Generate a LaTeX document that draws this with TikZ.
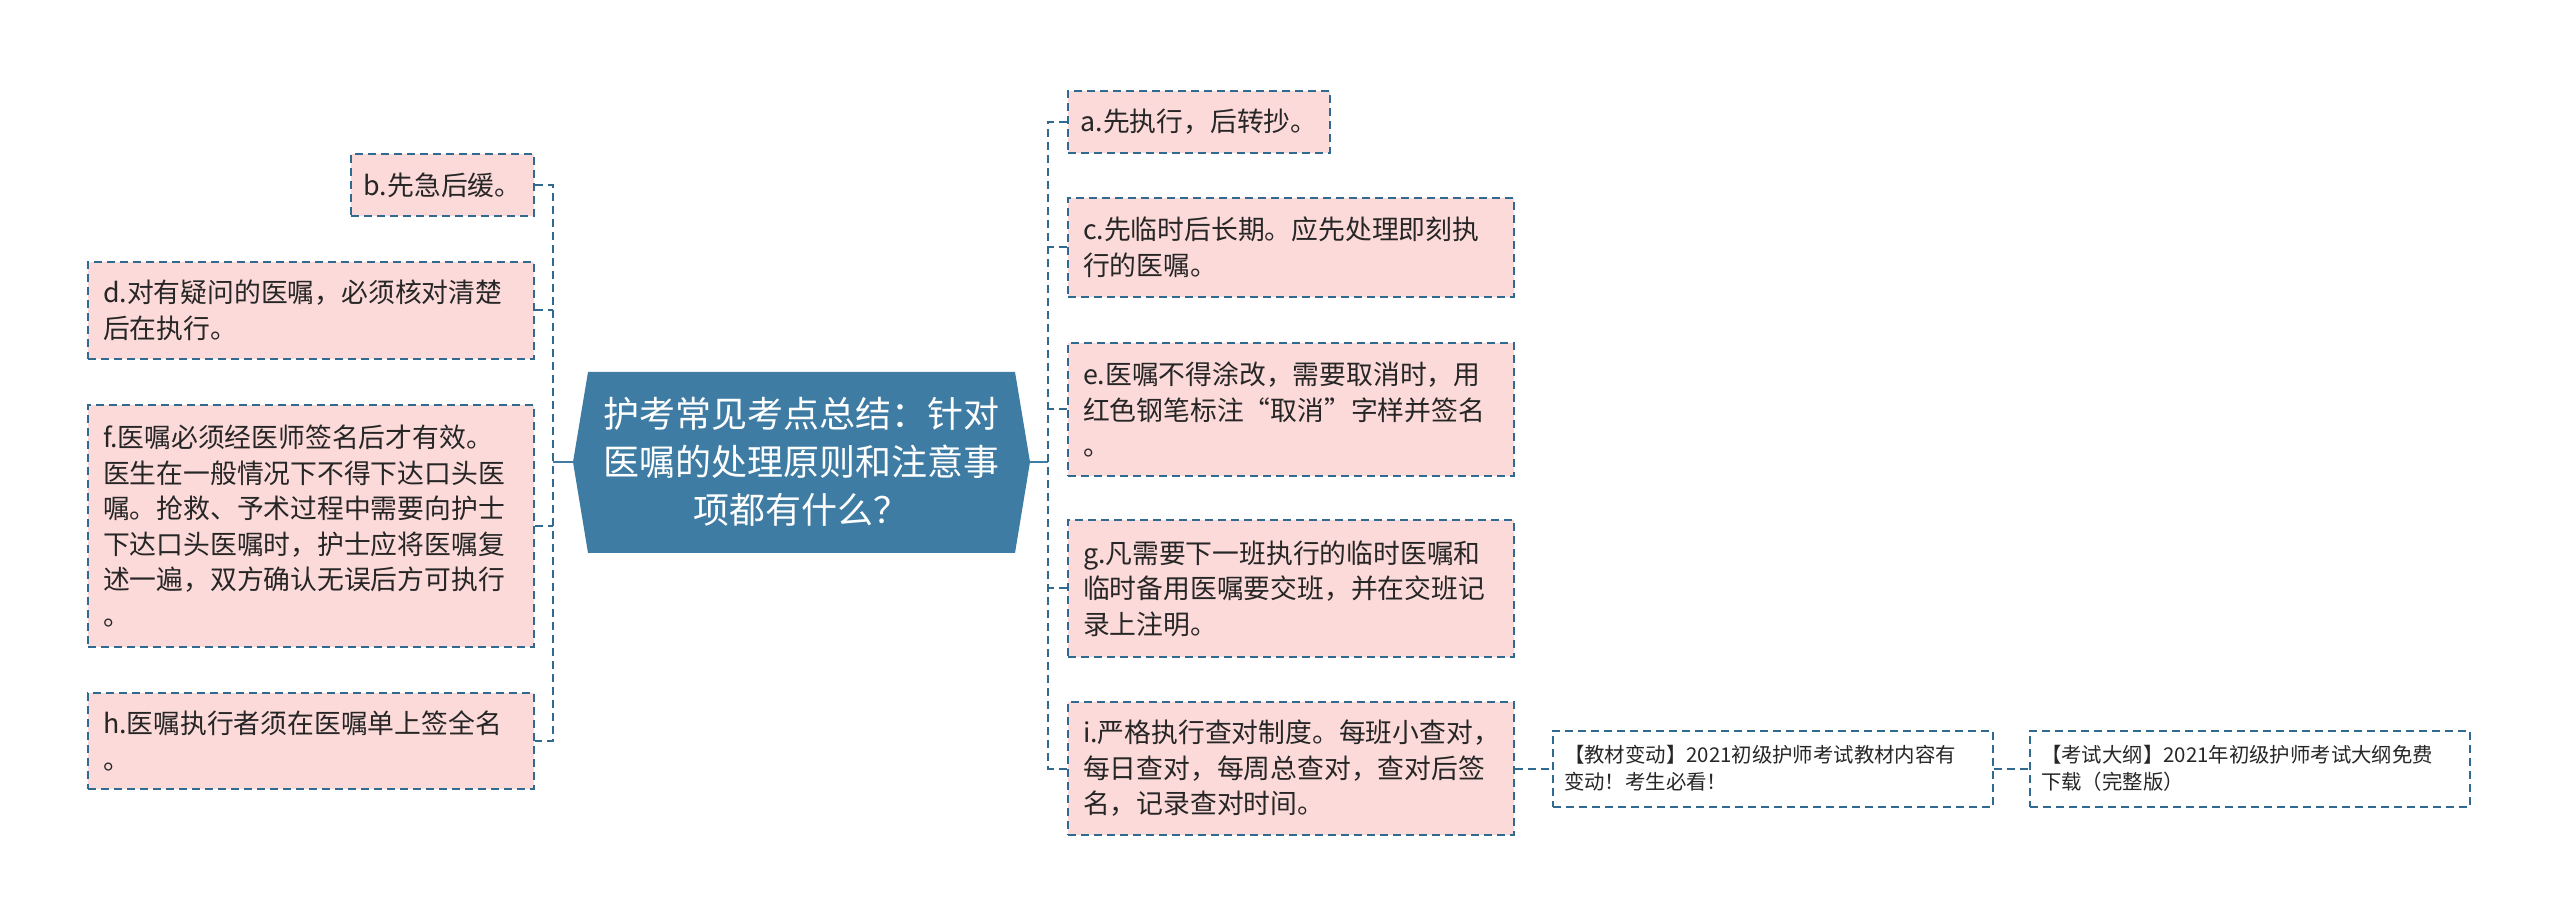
\documentclass[tikz,border=0pt]{standalone}
\usepackage{fontspec}
\newfontfamily\cjk{Noto Sans CJK SC}
\usepackage{tikz}
\usetikzlibrary{positioning}
\definecolor{rootblue}{RGB}{62,124,164}
\definecolor{lineblue}{RGB}{48,106,144}
\definecolor{leafpink}{RGB}{251,218,217}
\definecolor{inkgray}{RGB}{38,38,38}
\tikzset{
  leaf/.style={draw=lineblue, line width=1pt, dash pattern=on 4pt off 2.5pt, fill=leafpink,
    text=inkgray, align=left, inner xsep=7.5pt, inner ysep=4pt,
    font=\cjk\fontsize{13.4pt}{17.75pt}\selectfont},
  shortleaf/.style={leaf, inner xsep=6.3pt, minimum height=31pt},
  wideleaf/.style={leaf, text width=208pt, minimum height=#1},
  adbox/.style={draw=lineblue, line width=1pt, dash pattern=on 4pt off 2.5pt, text=inkgray,
    align=left, text width=209pt, minimum height=38pt, inner xsep=5.5pt,
    font=\cjk\fontsize{10.2pt}{13.5pt}\selectfont},
  roottext/.style={text=white, align=center, font=\cjk\fontsize{18pt}{24pt}\selectfont},
  link/.style={draw=lineblue, line width=1pt, dash pattern=on 4pt off 2.5pt},
  trunk/.style={draw=rootblue, line width=1.2pt},
}
\begin{document}
\begin{tikzpicture}[x=0.5pt, y=-0.5pt, node distance=18.5pt]
    \useasboundingbox (0,0) rectangle (2560,924);
    \fill[rootblue] (588,372) -- (1015,372) -- (1030,462) coordinate (rootE) -- (1015,553)
      -- (588,553) -- (573,462) coordinate (rootW) -- cycle;
    \node[roottext] (root) at (801,462) {护考常见考点总结：针对\\医嘱的处理原则和注意事\\项都有什么？};
    \coordinate (lj) at (553,462);
    \coordinate (rj) at (1048,462);

    \node[shortleaf, anchor=north east] (b) at (535,153) {b.先急后缓。};
    \node[wideleaf=48.5pt, anchor=north east] (d) at (535,261) {d.对有疑问的医嘱，必须核对清楚\\后在执行。};
    \node[wideleaf=121pt, anchor=north east] (f) at (535,404) {f.医嘱必须经医师签名后才有效。\\医生在一般情况下不得下达口头医\\嘱。抢救、予术过程中需要向护士\\下达口头医嘱时，护士应将医嘱复\\述一遍，双方确认无误后方可执行\\。};
    \node[wideleaf=48pt, anchor=north east] (h) at (535,692) {h.医嘱执行者须在医嘱单上签全名\\。};

    \node[shortleaf, anchor=north west] (a) at (1067,90) {a.先执行，后转抄。};
    \node[wideleaf=49.5pt, anchor=north west] (c) at (1067,197) {c.先临时后长期。应先处理即刻执\\行的医嘱。};
    \node[wideleaf=66.5pt, anchor=north west] (e) at (1067,342) {e.医嘱不得涂改，需要取消时，用\\红色钢笔标注“取消”字样并签名\\。};
    \node[wideleaf=68.5pt, anchor=north west] (g) at (1067,519) {g.凡需要下一班执行的临时医嘱和\\临时备用医嘱要交班，并在交班记\\录上注明。};
    \node[wideleaf=66.5pt, anchor=north west] (i) at (1067,701) {i.严格执行查对制度。每班小查对，\\每日查对，每周总查对，查对后签\\名，记录查对时间。};
    \node[adbox, right=of i] (x1) {【教材变动】2021初级护师考试教材内容有\\变动！考生必看！};
    \node[adbox, right=17.5pt of x1] (x2) {【考试大纲】2021年初级护师考试大纲免费\\下载（完整版）};

    \draw[trunk] (rootW) -- (lj);
    \draw[trunk] (rootE) -- (rj);
    \draw[link] (b.east) -| (lj) |- (h.east);
    \draw[link] (d.east) -- (d.east -| lj);
    \draw[link] (f.east) -- (f.east -| lj);
    \draw[link] (a.west) -| (rj) |- (i.west);
    \draw[link] (c.west) -- (c.west -| rj);
    \draw[link] (e.west) -- (e.west -| rj);
    \draw[link] (g.west) -- (g.west -| rj);
    \draw[link] (i) -- (x1);
    \draw[link] (x1) -- (x2);
\end{tikzpicture}
\end{document}
